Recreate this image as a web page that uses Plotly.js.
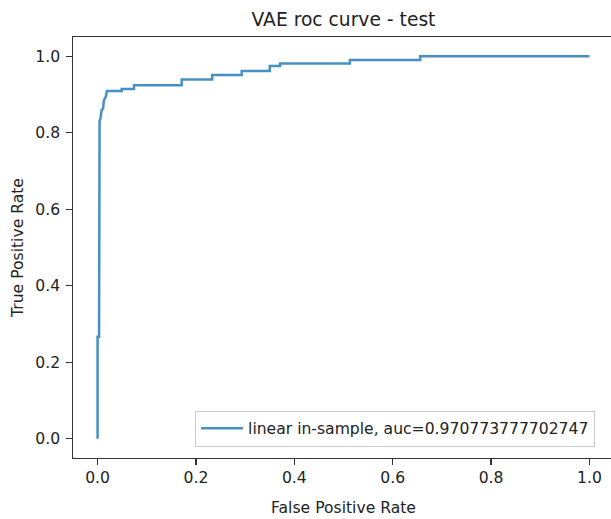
<!DOCTYPE html>
<html>
<head>
<meta charset="utf-8">
<script src="https://cdn.plot.ly/plotly-3.0.1.min.js"></script>
<style>
  html, body { margin: 0; padding: 0; overflow: hidden; background: #fff; }
  #plot { width: 615px; height: 519px; }
</style>
</head>
<body>
<div id="plot"></div>
<script>
// ROC curve points
const fpr = [0.000, 0.000, 0.003, 0.003, 0.004, 0.006, 0.008, 0.011, 0.013, 0.017, 0.019,
             0.049, 0.049, 0.074, 0.074, 0.171, 0.171, 0.233, 0.233, 0.293, 0.293,
             0.350, 0.350, 0.371, 0.371, 0.513, 0.513, 0.656, 0.656, 1.000];
const tpr = [0.000, 0.267, 0.267, 0.815, 0.830, 0.838, 0.859, 0.862, 0.885, 0.895, 0.909,
             0.909, 0.914, 0.914, 0.924, 0.924, 0.939, 0.939, 0.951, 0.951, 0.961,
             0.961, 0.974, 0.974, 0.981, 0.981, 0.990, 0.990, 1.000, 1.000];
const seriesName = 'linear in-sample, auc=0.970773777702747';
const chartTitle = 'VAE roc curve - test';
const xTitle = 'False Positive Rate';
const yTitle = 'True Positive Rate';

const font = 'DejaVu Sans, sans-serif';
const axisCol = '#333';
const textCol = '#222';
const fs = 15.6;

const trace = {
  x: fpr, y: tpr, type: 'scatter', mode: 'lines', name: seriesName,
  line: { color: 'rgba(31,119,180,0.82)', width: 2.5 },
  showlegend: true
};

const axisCommon = {
  range: [-0.05, 1.05], tick0: 0, dtick: 0.2, tickformat: '.1f',
  ticks: 'outside', ticklen: 5.5, tickwidth: 1.2, tickcolor: axisCol,
  showline: true, linecolor: axisCol, linewidth: 1.2, mirror: true,
  showgrid: false, zeroline: false,
  tickfont: { family: font, size: fs, color: textCol }
};

const layout = {
  width: 615, height: 519,
  margin: { l: 73, r: 1, t: 37, b: 61 },
  paper_bgcolor: '#fff', plot_bgcolor: '#fff',
  title: { text: chartTitle, font: { family: font, size: 18.7, color: textCol },
           x: 0.5, xref: 'paper', y: 0.962, yref: 'container', yanchor: 'middle' },
  xaxis: Object.assign({}, axisCommon, {
    title: { text: xTitle, font: { family: font, size: fs, color: textCol }, standoff: 15 }
  }),
  yaxis: Object.assign({}, axisCommon, {
    ticklabelstandoff: 3,
    title: { text: yTitle, font: { family: font, size: fs, color: textCol }, standoff: 8 }
  }),
  legend: {
    x: 0.965, xanchor: 'right', y: 0.027, yanchor: 'bottom',
    itemwidth: 42,
    bordercolor: '#ccc', borderwidth: 1, bgcolor: 'rgba(255,255,255,0.8)',
    font: { family: font, size: fs, color: textCol }
  }
};

Plotly.newPlot('plot', [trace], layout, { displayModeBar: false, staticPlot: true });
</script>
</body>
</html>
